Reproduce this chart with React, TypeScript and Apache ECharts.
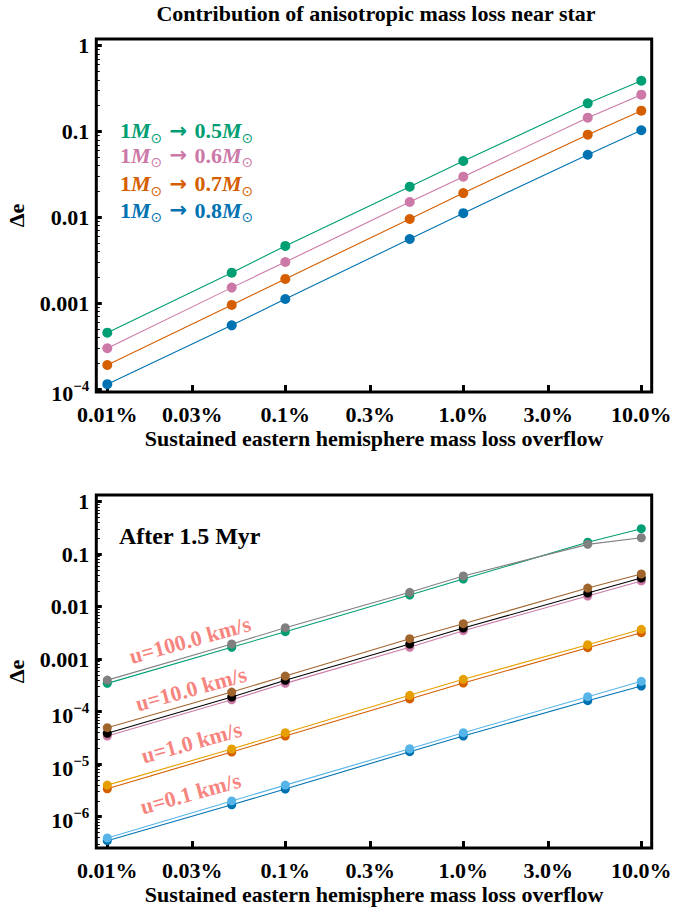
import React, { useEffect, useRef } from 'react';
import * as echarts from 'echarts';

// ---------- data ----------
const xPercent = [0.01, 0.05, 0.1, 0.5, 1, 5, 10];
const xTickValues = [0.01, 0.03, 0.1, 0.3, 1, 3, 10];
const xTickLabels = ['0.01%', '0.03%', '0.1%', '0.3%', '1.0%', '3.0%', '10.0%'];

const topYTicks = [-4, -3, -2, -1, 0];
const bottomYTicks = [-6, -5, -4, -3, -2, -1, 0];
const minorMultipliers = [2, 3, 4, 5, 6, 7, 8, 9];

// top panel: final mass
const topM05 = [4.54e-4, 2.27e-3, 4.65e-3, 0.0228, 0.0454, 0.213, 0.391];
const topM06 = [2.99e-4, 1.52e-3, 3.02e-3, 0.0151, 0.0298, 0.145, 0.269];
const topM07 = [1.91e-4, 9.55e-4, 1.92e-3, 9.58e-3, 0.0192, 0.0919, 0.175];
const topM08 = [1.14e-4, 5.53e-4, 1.12e-3, 5.6e-3, 0.0112, 0.0537, 0.1035];
const topColors = ['#009E73', '#CC79A7', '#D55E00', '#0072B2'];
const topNames = ['0.5', '0.6', '0.7', '0.8'];

// bottom panel: after 1.5 Myr
const botGreen100 = [3.47e-4, 1.69e-3, 3.34e-3, 0.0167, 0.0337, 0.169, 0.306];
const botGray100 = [4.0e-4, 1.95e-3, 3.98e-3, 0.0188, 0.0385, 0.154, 0.206];
const botPink10 = [3.44e-5, 1.69e-4, 3.47e-4, 1.69e-3, 3.49e-3, 0.016, 0.031];
const botBlack10 = [3.89e-5, 1.9e-4, 3.96e-4, 1.95e-3, 3.93e-3, 0.0182, 0.0352];
const botBrown10 = [4.96e-5, 2.37e-4, 4.78e-4, 2.46e-3, 4.75e-3, 0.0227, 0.042];
const botOrange1 = [3.41e-6, 1.71e-5, 3.44e-5, 1.75e-4, 3.52e-4, 1.66e-3, 3.2e-3];
const botYellow1 = [4.0e-6, 1.95e-5, 3.98e-5, 2.05e-4, 4.14e-4, 1.89e-3, 3.71e-3];
const botBlue01 = [3.49e-7, 1.69e-6, 3.37e-6, 1.73e-5, 3.44e-5, 1.62e-4, 3.09e-4];
const botLightBlue01 = [3.93e-7, 2.0e-6, 4.0e-6, 1.97e-5, 3.98e-5, 1.93e-4, 3.79e-4];

const velocityLabels = ['u=100.0 km/s', 'u=10.0 km/s', 'u=1.0 km/s', 'u=0.1 km/s'];

const FONT = '"Liberation Serif", "Times New Roman", serif';

const toPoints = (vals: number[]) =>
  xPercent.map((x, i) => [Math.log10(x), Math.log10(vals[i])]);

const minorTicks = (lo: number, hi: number) => {
  const out: number[] = [];
  for (let n = Math.floor(lo); n <= Math.ceil(hi); n++) {
    for (const k of minorMultipliers) {
      const v = n + Math.log10(k);
      if (v > lo && v < hi) out.push(v);
    }
  }
  return out;
};

const yLabel = (v: number) => {
  const r = Math.round(v);
  if (r === 0) return '{b|1}';
  if (r >= -3) return '{b|' + (10 ** r).toFixed(-r) + '}';
  return '{e|10}{s|\u2212' + -r + '}';
};

const xLabel = (v: number) => {
  const i = xTickValues.findIndex((t) => Math.abs(Math.log10(t) - v) < 1e-6);
  return i >= 0 ? xTickLabels[i] : '';
};

export default function App() {
  const ref = useRef<HTMLDivElement>(null);
  useEffect(() => {
    if (!ref.current) return;
    const chart = echarts.init(ref.current, null, { renderer: 'svg' });

    const xMin = -2.0618;
    const xMax = 1.0584;
    const topMin = -4.034;
    const topMax = 0.078;
    const botMin = -6.596;
    const botMax = 0.128;

    const labelRich = {
      b: { fontFamily: FONT, fontWeight: 'bold', fontSize: 22, color: '#000', lineHeight: 22 },
      e: { fontFamily: FONT, fontWeight: 'bold', fontSize: 22, color: '#000', lineHeight: 22, padding: [8, 0, 0, 0] },
      s: { fontFamily: FONT, fontWeight: 'bold', fontSize: 15, color: '#000', lineHeight: 15, verticalAlign: 'top' },
    };

    const xTickLogs = xTickValues.map((t) => Math.log10(t));

    const makeX = (gridIndex: number) => ({
      type: 'value',
      gridIndex,
      position: 'bottom',
      min: xMin,
      max: xMax,
      name: 'Sustained eastern hemisphere mass loss overflow',
      nameLocation: 'middle',
      nameGap: 35,
      nameTextStyle: { fontFamily: FONT, fontWeight: 'bold', fontSize: 22, color: '#000' },
      axisLine: { show: false, onZero: false },
      splitLine: { show: false },
      axisTick: { show: true, inside: true, length: 7, lineStyle: { width: 3, color: '#000' }, customValues: xTickLogs },
      axisLabel: {
        show: true,
        customValues: xTickLogs,
        formatter: xLabel,
        fontFamily: FONT,
        fontWeight: 'bold',
        fontSize: 22,
        color: '#000',
        margin: 11,
      },
    });

    const makeY = (gridIndex: number, min: number, max: number, ticks: number[]) => ({
      type: 'value',
      gridIndex,
      position: 'left',
      min,
      max,
      name: '\u0394e',
      nameLocation: 'middle',
      nameGap: 69,
      nameTextStyle: { fontFamily: FONT, fontWeight: 'bold', fontSize: 22, color: '#000' },
      axisLine: { show: false, onZero: false },
      splitLine: { show: false },
      axisTick: { show: true, inside: true, length: 5.5, lineStyle: { width: 3, color: '#000' }, customValues: ticks },
      axisLabel: {
        show: true,
        customValues: ticks,
        formatter: yLabel,
        margin: 7,
        rich: labelRich,
      },
    });

    const makeMinorY = (gridIndex: number, min: number, max: number) => ({
      type: 'value',
      gridIndex,
      position: 'left',
      min,
      max,
      axisLine: { show: false, onZero: false },
      splitLine: { show: false },
      axisLabel: { show: false },
      axisTick: { show: true, inside: true, length: 3.5, lineStyle: { width: 1, color: '#000' }, customValues: minorTicks(min, max) },
    });

    const lineSeries = (vals: number[], color: string, xi: number, yi: number, size: number, name: string) => ({
      type: 'line',
      name,
      xAxisIndex: xi,
      yAxisIndex: yi,
      data: toPoints(vals),
      symbol: 'circle',
      symbolSize: size,
      lineStyle: { color, width: 1.1 },
      itemStyle: { color },
      silent: true,
    });

    const topVals = [topM05, topM06, topM07, topM08];

    const series: any[] = [];
    topVals.forEach((v, i) => series.push(lineSeries(v, topColors[i], 0, 0, 10, topNames[i])));
    const bottomSets: [number[], string][] = [
      [botGreen100, '#009E73'],
      [botGray100, '#808080'],
      [botPink10, '#CC79A7'],
      [botBlack10, '#000000'],
      [botBrown10, '#A0642D'],
      [botOrange1, '#D55E00'],
      [botYellow1, '#E69F00'],
      [botBlue01, '#0072B2'],
      [botLightBlue01, '#56B4E9'],
    ];
    bottomSets.forEach(([v, c], i) => series.push(lineSeries(v, c, 1, 2, 9, 'b' + i)));

    const legendY = [129.7, 154.2, 182.5, 209.2];
    const legendRich = (color: string) => ({
      n: { fontFamily: FONT, fontWeight: 'bold', fontSize: 22, fill: color, lineHeight: 28, verticalAlign: 'middle' },
      m: { fontFamily: FONT, fontWeight: 'bold', fontStyle: 'italic', fontSize: 22, fill: color, lineHeight: 28, verticalAlign: 'middle' },
      o: { fontFamily: '"DejaVu Sans", sans-serif', fontSize: 14, fill: color, lineHeight: 14, verticalAlign: 'bottom' },
      a: { fontFamily: '"DejaVu Sans", sans-serif', fontWeight: 'bold', fontSize: 21, fill: color, lineHeight: 28, verticalAlign: 'middle' },
    });

    const graphics: any[] = [
      {
        type: 'text',
        x: 376,
        y: 13,
        style: {
          text: 'Contribution of anisotropic mass loss near star',
          fontFamily: FONT,
          fontWeight: 'bold',
          fontSize: 22,
          fill: '#000',
          align: 'center',
          verticalAlign: 'middle',
        },
      },
      {
        type: 'text',
        x: 119,
        y: 536,
        style: {
          text: 'After 1.5 Myr',
          fontFamily: FONT,
          fontWeight: 'bold',
          fontSize: 24,
          fill: '#000',
          align: 'left',
          verticalAlign: 'middle',
        },
      },
    ];

    topNames.forEach((nm, i) => {
      graphics.push({
        type: 'text',
        x: 120,
        y: legendY[i] + 1,
        style: {
          text: '{n|1}{m|M}{o|\u2299}{a| \u2192 }{n|' + nm + '}{m|M}{o|\u2299}',
          rich: legendRich(topColors[i]),
          fill: topColors[i],
          align: 'left',
          verticalAlign: 'middle',
        },
      });
    });

    const velCenters = [
      [190, 640],
      [191, 689],
      [191.5, 742.5],
      [190.5, 793.5],
    ];
    velocityLabels.forEach((t, i) => {
      graphics.push({
        type: 'text',
        x: velCenters[i][0],
        y: velCenters[i][1],
        rotation: (15.5 * Math.PI) / 180,
        style: {
          text: t,
          fontFamily: FONT,
          fontWeight: 'bold',
          fontSize: 22,
          fill: '#F7857F',
          align: 'center',
          verticalAlign: 'middle',
        },
      });
    });

    const gridBase = {
      left: 96.3,
      right: 21.3,
      height: 353,
      show: true,
      borderColor: '#000',
      borderWidth: 3,
      backgroundColor: 'transparent',
      containLabel: false,
      outerBoundsMode: 'none',
    };

    chart.setOption({
      animation: false,
      backgroundColor: '#fff',
      grid: [
        { ...gridBase, top: 39 },
        { ...gridBase, top: 495 },
      ],
      xAxis: [makeX(0), makeX(1)],
      yAxis: [
        makeY(0, topMin, topMax, topYTicks),
        makeMinorY(0, topMin, topMax),
        makeY(1, botMin, botMax, bottomYTicks),
        makeMinorY(1, botMin, botMax),
      ],
      series,
      graphic: graphics,
    });

    return () => chart.dispose();
  }, []);

  return (
    <div
      ref={ref}
      style={{ position: 'fixed', left: 0, top: 0, width: 673, height: 914, background: '#fff' }}
    />
  );
}
